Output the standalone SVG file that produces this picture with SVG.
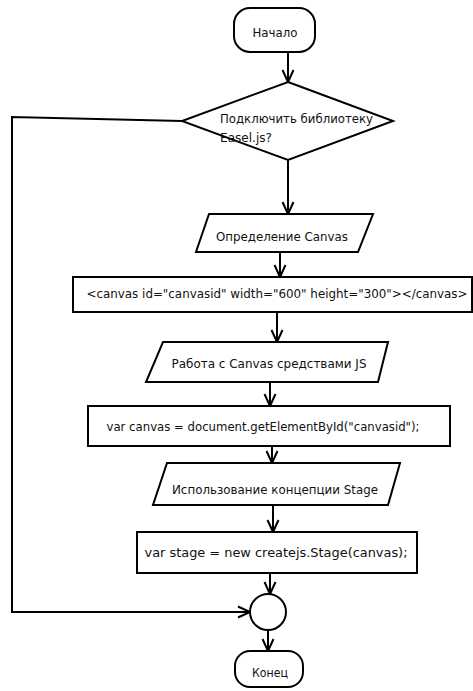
<svg xmlns="http://www.w3.org/2000/svg" width="473" height="691" viewBox="0 0 473 691">
<style>
.s{fill:#fff;stroke:#000;stroke-width:2}
.c{fill:none;stroke:#000;stroke-width:2}
text{font-family:"DejaVu Sans","Liberation Sans",sans-serif;font-size:11.5px;fill:#111}
.m{text-anchor:middle}
</style>
<defs>
<marker id="a" markerUnits="userSpaceOnUse" markerWidth="16" markerHeight="16" refX="13" refY="7" orient="auto">
<path d="M1,1.5 L13,7 L1,12.5" fill="none" stroke="#000" stroke-width="2"/>
</marker>
</defs>
<g id="connectors">
<line class="c" x1="288" y1="52" x2="288" y2="82" marker-end="url(#a)"/>
<line class="c" x1="288" y1="160" x2="288" y2="214" marker-end="url(#a)"/>
<line class="c" x1="280" y1="252" x2="280" y2="277" marker-end="url(#a)"/>
<line class="c" x1="277" y1="312" x2="277" y2="342" marker-end="url(#a)"/>
<line class="c" x1="270" y1="382" x2="270" y2="406" marker-end="url(#a)"/>
<line class="c" x1="272" y1="446" x2="272" y2="463" marker-end="url(#a)"/>
<line class="c" x1="273" y1="505" x2="273" y2="532" marker-end="url(#a)"/>
<line class="c" x1="270" y1="573" x2="270" y2="594" marker-end="url(#a)"/>
<polyline class="c" points="182,121 12,117 12,612 250,612" marker-end="url(#a)"/>
<line class="c" x1="268" y1="630" x2="268" y2="651" marker-end="url(#a)"/>
</g>
<g id="start">
<rect class="s" x="234" y="8" width="81" height="44" rx="16"/>
<text class="m" x="275" y="37" textLength="45" lengthAdjust="spacingAndGlyphs">Начало</text>
</g>
<g id="decision">
<polygon class="s" points="288,82 393,121 288,160 182,121"/>
<text x="220" y="123" textLength="153" lengthAdjust="spacingAndGlyphs">Подключить библиотеку</text>
<text x="220" y="142" textLength="52" lengthAdjust="spacingAndGlyphs">Easel.js?</text>
</g>
<g id="io1">
<polygon class="s" points="209,214 373,214 358,252 196,252"/>
<text class="m" x="282" y="241" textLength="132" lengthAdjust="spacingAndGlyphs">Определение Canvas</text>
</g>
<g id="proc1">
<rect class="s" x="73" y="277" width="399" height="35"/>
<text class="m" x="277" y="298" textLength="381" lengthAdjust="spacingAndGlyphs">&lt;canvas id="canvasid" width="600" height="300"&gt;&lt;/canvas&gt;</text>
</g>
<g id="io2">
<polygon class="s" points="163,342 388,342 378,382 146,382"/>
<text class="m" x="269" y="368" textLength="195" lengthAdjust="spacingAndGlyphs">Работа с Canvas средствами JS</text>
</g>
<g id="proc2">
<rect class="s" x="88" y="406" width="362" height="40"/>
<text class="m" x="263" y="431" textLength="313" lengthAdjust="spacingAndGlyphs">var canvas = document.getElementById("canvasid");</text>
</g>
<g id="io3">
<polygon class="s" points="167,463 400,463 388,505 153,505"/>
<text class="m" x="275" y="494" textLength="206" lengthAdjust="spacingAndGlyphs">Использование концепции Stage</text>
</g>
<g id="proc3">
<rect class="s" x="137" y="532" width="280" height="41"/>
<text class="m" x="276" y="557" textLength="263" lengthAdjust="spacingAndGlyphs">var stage = new createjs.Stage(canvas);</text>
</g>
<g id="join">
<circle class="s" cx="268" cy="612" r="18"/>
</g>
<g id="end">
<rect class="s" x="235" y="651" width="68" height="36" rx="15"/>
<text class="m" x="270" y="677" textLength="36" lengthAdjust="spacingAndGlyphs">Конец</text>
</g>
</svg>
